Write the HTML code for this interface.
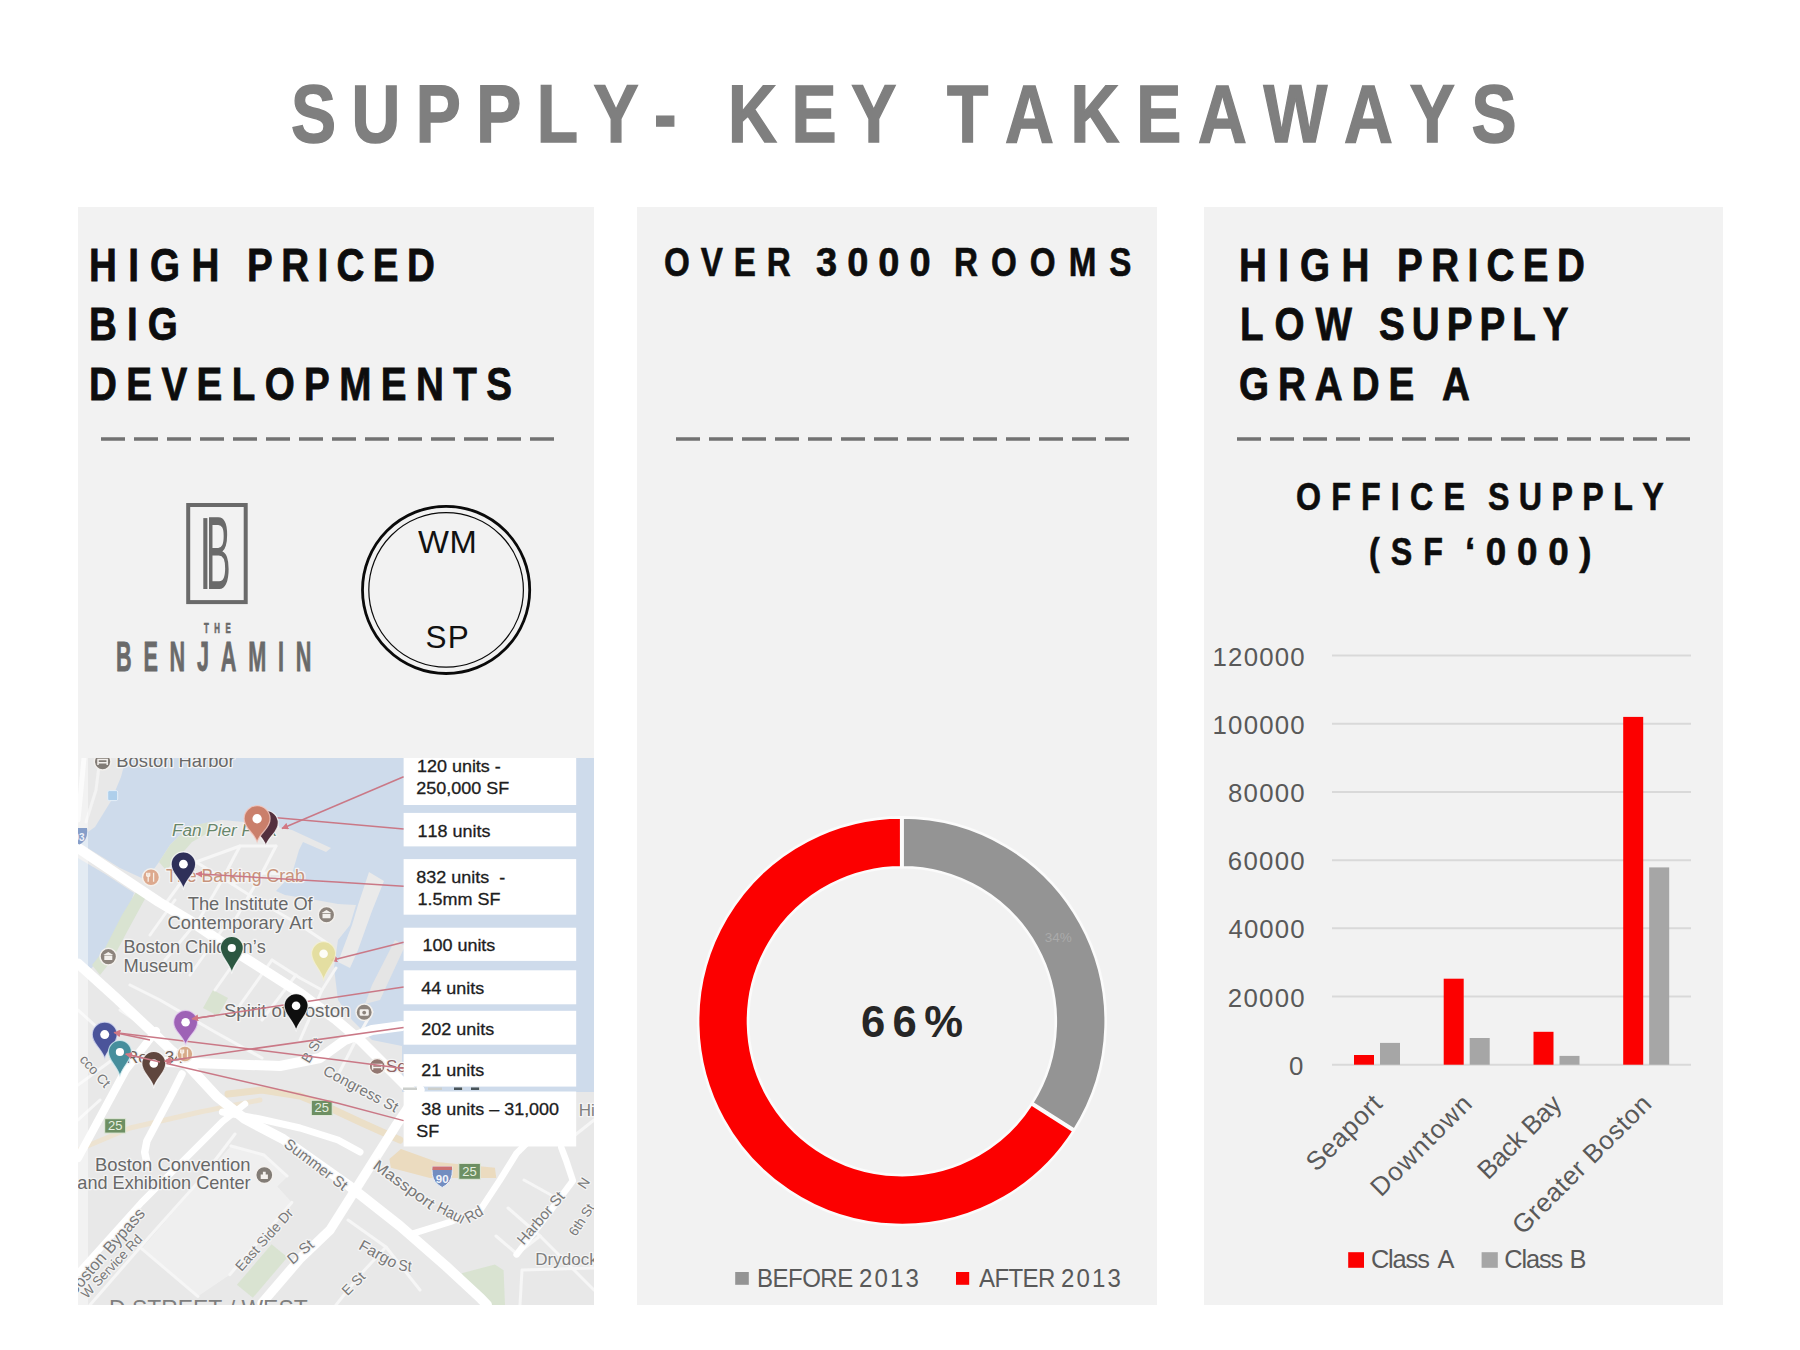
<!DOCTYPE html>
<html lang="en"><head><meta charset="utf-8"><title>Supply - Key Takeaways</title>
<style>
html,body{margin:0;padding:0;background:#fff;}
body{width:1800px;height:1350px;position:relative;overflow:hidden;font-family:"Liberation Sans",sans-serif;font-kerning:none;}
.t{position:absolute;white-space:nowrap;line-height:1;transform-origin:0 0;}
.r{position:absolute;}
svg text{font-family:"Liberation Sans",sans-serif;font-kerning:none;}
</style></head><body>
<div class="r" style="left:78px;top:207px;width:516px;height:1098px;background:#f2f2f2;"></div>
<div class="r" style="left:637px;top:207px;width:520px;height:1098px;background:#f2f2f2;"></div>
<div class="r" style="left:1204px;top:207px;width:519px;height:1098px;background:#f2f2f2;"></div>
<svg class="r" style="left:0;top:0" width="1800" height="1350" viewBox="0 0 1800 1350"><line x1="1332" y1="1064.7" x2="1691" y2="1064.7" stroke="#d9d9d9" stroke-width="2"/>
<line x1="1332" y1="996.5" x2="1691" y2="996.5" stroke="#d9d9d9" stroke-width="2"/>
<line x1="1332" y1="928.3" x2="1691" y2="928.3" stroke="#d9d9d9" stroke-width="2"/>
<line x1="1332" y1="860.2" x2="1691" y2="860.2" stroke="#d9d9d9" stroke-width="2"/>
<line x1="1332" y1="792.0" x2="1691" y2="792.0" stroke="#d9d9d9" stroke-width="2"/>
<line x1="1332" y1="723.8" x2="1691" y2="723.8" stroke="#d9d9d9" stroke-width="2"/>
<line x1="1332" y1="655.6" x2="1691" y2="655.6" stroke="#d9d9d9" stroke-width="2"/>
<rect x="1354.0" y="1055" width="20" height="9.7" fill="#fc0000"/>
<rect x="1380.0" y="1042.9" width="20" height="21.8" fill="#a6a6a6"/>
<text transform="translate(1384.1,1105.0) rotate(-45)" text-anchor="end" font-size="26" letter-spacing="0.65" fill="#595959">Seaport</text>
<rect x="1443.7" y="978.7" width="20" height="86.0" fill="#fc0000"/>
<rect x="1469.7" y="1038" width="20" height="26.7" fill="#a6a6a6"/>
<text transform="translate(1474.3,1104.6) rotate(-45)" text-anchor="end" font-size="26" letter-spacing="1.3" fill="#595959">Downtown</text>
<rect x="1533.5" y="1031.8" width="20" height="32.9" fill="#fc0000"/>
<rect x="1559.5" y="1055.9" width="20" height="8.8" fill="#a6a6a6"/>
<text transform="translate(1562.8,1105.8) rotate(-45)" text-anchor="end" font-size="26" letter-spacing="-0.5" fill="#595959">Back Bay</text>
<rect x="1623.2" y="716.9" width="20" height="347.8" fill="#fc0000"/>
<rect x="1649.2" y="867.4" width="20" height="197.3" fill="#a6a6a6"/>
<text transform="translate(1653.3,1105.1) rotate(-45)" text-anchor="end" font-size="26" letter-spacing="0.6" fill="#595959">Greater Boston</text>
<rect x="1348.2" y="1252.2" width="15.8" height="15.6" fill="#fc0000"/>
<rect x="1481.6" y="1252.2" width="16.2" height="15.6" fill="#a6a6a6"/>
<path d="M901.90 817.40 A203.8 203.8 0 0 1 1073.97 1130.40 L1031.84 1103.66 A153.89999999999998 153.89999999999998 0 0 0 901.90 867.30 Z" fill="#949494" stroke="#fbfbfb" stroke-width="2.6" stroke-linejoin="round"/>
<path d="M1073.97 1130.40 A203.8 203.8 0 1 1 901.90 817.40 L901.90 867.30 A153.89999999999998 153.89999999999998 0 1 0 1031.84 1103.66 Z" fill="#fc0000" stroke="#fbfbfb" stroke-width="2.6" stroke-linejoin="round"/>
<line x1="901.90" y1="867.50" x2="901.90" y2="817.20" stroke="#fbfbfb" stroke-width="4"/>
<line x1="1031.67" y1="1103.56" x2="1074.14" y2="1130.51" stroke="#fbfbfb" stroke-width="4"/>
<rect x="735.2" y="1272" width="13.6" height="12.8" fill="#949494"/>
<rect x="956" y="1272" width="13.2" height="12.8" fill="#fc0000"/>
<rect x="188.2" y="505" width="57.5" height="97.1" fill="none" stroke="#6a6a6a" stroke-width="4"/>
<rect x="203.3" y="518.1" width="4.1" height="70.9" fill="#6a6a6a"/>
<circle cx="446.1" cy="589.9" r="83.6" fill="none" stroke="#0a0a0a" stroke-width="2.8"/>
<circle cx="446.1" cy="589.9" r="77.3" fill="none" stroke="#0a0a0a" stroke-width="1.2"/>
<svg x="78" y="758" width="516" height="547" viewBox="78 758 516 547"><rect x="78" y="758" width="516" height="547" fill="#e7e7e7"/>
<polygon points="126.0,758.0 594.0,758.0 594.0,1092.0 402.0,1092.0 402.0,1046.0 372.0,1040.0 352.0,1020.0 338.0,1000.0 334.0,968.0 338.0,940.0 350.0,925.0 356.0,905.0 338.0,904.0 316.0,900.0 285.0,895.0 276.0,891.0 292.0,874.0 299.0,850.0 303.0,842.0 326.0,852.0 331.0,848.0 292.0,830.0 277.0,827.0 266.0,826.0 244.0,822.0 222.0,820.0 191.0,826.0 179.0,836.0 170.0,845.0 159.0,862.0 146.0,880.0 120.0,868.0 78.0,842.0 78.0,839.0 95.0,827.0 111.0,801.0 121.0,777.0" fill="#cbd9ea" />
<polygon points="78.0,858.0 105.0,874.0 134.0,893.0 124.5,920.5 103.0,954.9 88.0,972.0 78.0,966.0" fill="#cbd9ea" />
<polygon points="369.0,872.0 384.0,881.0 372.0,911.0 358.0,950.0 350.0,968.0 338.0,962.0 352.0,925.0 358.0,905.0" fill="#e9e9e9" />
<polygon points="395.0,940.0 405.0,946.0 380.0,1000.0 365.0,1004.0 372.0,985.0" fill="#e4e4e4" />
<polygon points="170.0,845.0 179.0,836.0 191.0,826.0 210.0,822.0 206.0,834.0 192.0,842.0 178.0,858.0 166.0,870.0 159.0,862.0" fill="#d7e2cf" />
<polygon points="136.0,892.0 146.0,897.0 128.0,930.0 112.0,960.0 100.0,975.0 92.0,965.0 104.0,950.0 122.0,915.0" fill="#d7e2cf" />
<polygon points="213.0,990.0 228.0,998.0 218.0,1016.0 203.0,1008.0" fill="#d7e2cf" />
<polygon points="271.6,1244.3 287.4,1257.3 252.8,1297.8 236.9,1284.8" fill="#d7e2cf" />
<polygon points="461.7,1273.2 494.9,1264.6 503.6,1270.3 505.0,1305.0 480.4,1305.0" fill="#d7e2cf" />
<polyline points="84.0,758.0 80.0,800.0 78.0,820.0" fill="none" stroke="#f8f8f8" stroke-width="5" stroke-linecap="round" stroke-linejoin="round" />
<polyline points="100.0,758.0 96.0,790.0 86.0,822.0" fill="none" stroke="#f3f3f3" stroke-width="3" stroke-linecap="round" stroke-linejoin="round" />
<polygon points="231.0,1146.0 264.3,1154.8 287.4,1176.4 277.3,1186.6 291.8,1202.4 229.7,1274.7 197.9,1296.3 141.6,1248.7" fill="#efefef" />
<polyline points="78.0,1150.0 130.0,1128.0 200.0,1112.0 260.0,1100.0" fill="none" stroke="#ece2cf" stroke-width="5" stroke-linecap="round" stroke-linejoin="round" />
<polyline points="228.0,1094.0 262.0,1090.0 300.0,1096.0 330.0,1108.0 360.0,1122.0 400.0,1140.0" fill="none" stroke="#eaddc4" stroke-width="7" stroke-linecap="round" stroke-linejoin="round" />
<polygon points="389.4,1159.1 401.0,1149.0 437.1,1162.0 494.9,1167.8 496.3,1177.9 429.9,1177.9 390.9,1167.8" fill="#ead9bb" />
<polyline points="166.0,903.0 196.0,862.0 240.0,846.0 276.0,846.0" fill="none" stroke="#f6f6f6" stroke-width="3" stroke-linecap="round" stroke-linejoin="round" />
<polyline points="196.0,862.0 232.0,884.0 262.0,903.0" fill="none" stroke="#f6f6f6" stroke-width="3" stroke-linecap="round" stroke-linejoin="round" />
<polyline points="240.0,846.0 222.0,880.0 200.0,918.0" fill="none" stroke="#f6f6f6" stroke-width="3" stroke-linecap="round" stroke-linejoin="round" />
<polyline points="276.0,846.0 262.0,873.0 236.0,918.0" fill="none" stroke="#f6f6f6" stroke-width="3" stroke-linecap="round" stroke-linejoin="round" />
<polyline points="232.0,884.0 262.0,873.0 292.0,874.0" fill="none" stroke="#f6f6f6" stroke-width="3" stroke-linecap="round" stroke-linejoin="round" />
<polyline points="262.0,903.0 300.0,925.0 330.0,945.0" fill="none" stroke="#f6f6f6" stroke-width="3" stroke-linecap="round" stroke-linejoin="round" />
<polyline points="150.0,935.0 175.0,900.0" fill="none" stroke="#f6f6f6" stroke-width="3" stroke-linecap="round" stroke-linejoin="round" />
<polyline points="165.0,960.0 200.0,918.0" fill="none" stroke="#f6f6f6" stroke-width="3" stroke-linecap="round" stroke-linejoin="round" />
<polyline points="190.0,975.0 222.0,930.0" fill="none" stroke="#f6f6f6" stroke-width="3" stroke-linecap="round" stroke-linejoin="round" />
<polyline points="215.0,990.0 246.0,946.0" fill="none" stroke="#f6f6f6" stroke-width="3" stroke-linecap="round" stroke-linejoin="round" />
<polyline points="240.0,1005.0 272.0,960.0" fill="none" stroke="#f6f6f6" stroke-width="3" stroke-linecap="round" stroke-linejoin="round" />
<polyline points="262.0,1020.0 296.0,975.0" fill="none" stroke="#f6f6f6" stroke-width="3" stroke-linecap="round" stroke-linejoin="round" />
<polyline points="130.0,985.0 160.0,1000.0 215.0,1032.0 262.0,1058.0" fill="none" stroke="#f6f6f6" stroke-width="3" stroke-linecap="round" stroke-linejoin="round" />
<polyline points="120.0,1010.0 150.0,1030.0" fill="none" stroke="#f6f6f6" stroke-width="3" stroke-linecap="round" stroke-linejoin="round" />
<polyline points="272.0,960.0 300.0,978.0 322.0,990.0" fill="none" stroke="#f6f6f6" stroke-width="3" stroke-linecap="round" stroke-linejoin="round" />
<polyline points="300.0,1040.0 322.0,990.0 336.0,968.0" fill="none" stroke="#f6f6f6" stroke-width="3" stroke-linecap="round" stroke-linejoin="round" />
<polyline points="338.0,1075.0 356.0,1040.0 372.0,1012.0" fill="none" stroke="#f6f6f6" stroke-width="3" stroke-linecap="round" stroke-linejoin="round" />
<polyline points="78.0,1010.0 100.0,1030.0 118.0,1052.0" fill="none" stroke="#f6f6f6" stroke-width="3" stroke-linecap="round" stroke-linejoin="round" />
<polyline points="78.0,1085.0 112.0,1060.0" fill="none" stroke="#f6f6f6" stroke-width="3" stroke-linecap="round" stroke-linejoin="round" />
<polyline points="78.0,1120.0 100.0,1100.0" fill="none" stroke="#f6f6f6" stroke-width="3" stroke-linecap="round" stroke-linejoin="round" />
<polyline points="90.0,1305.0 150.0,1236.0 200.0,1180.0 235.0,1134.0" fill="none" stroke="#f6f6f6" stroke-width="3" stroke-linecap="round" stroke-linejoin="round" />
<polyline points="141.6,1248.7 197.9,1296.3" fill="none" stroke="#f6f6f6" stroke-width="3" stroke-linecap="round" stroke-linejoin="round" />
<polyline points="231.0,1146.0 264.0,1155.0 287.0,1176.0" fill="none" stroke="#f6f6f6" stroke-width="3" stroke-linecap="round" stroke-linejoin="round" />
<polyline points="291.8,1202.4 229.7,1274.7" fill="none" stroke="#f6f6f6" stroke-width="3" stroke-linecap="round" stroke-linejoin="round" />
<polyline points="336.0,1305.0 360.0,1275.0 386.0,1247.0" fill="none" stroke="#f6f6f6" stroke-width="3" stroke-linecap="round" stroke-linejoin="round" />
<polyline points="348.0,1220.0 386.0,1247.0 420.0,1290.0" fill="none" stroke="#f6f6f6" stroke-width="3" stroke-linecap="round" stroke-linejoin="round" />
<polyline points="496.0,1236.0 517.0,1254.0" fill="none" stroke="#f6f6f6" stroke-width="3" stroke-linecap="round" stroke-linejoin="round" />
<polyline points="508.0,1208.0 540.0,1236.0" fill="none" stroke="#f6f6f6" stroke-width="3" stroke-linecap="round" stroke-linejoin="round" />
<polyline points="524.0,1180.0 560.0,1200.0" fill="none" stroke="#f6f6f6" stroke-width="3" stroke-linecap="round" stroke-linejoin="round" />
<polyline points="520.0,1305.0 522.0,1270.0 594.0,1268.0" fill="none" stroke="#f6f6f6" stroke-width="3" stroke-linecap="round" stroke-linejoin="round" />
<polyline points="560.0,1147.0 594.0,1120.0" fill="none" stroke="#f6f6f6" stroke-width="3" stroke-linecap="round" stroke-linejoin="round" />
<polyline points="540.0,1236.0 517.0,1254.0" fill="none" stroke="#f6f6f6" stroke-width="3" stroke-linecap="round" stroke-linejoin="round" />
<polyline points="540.0,1236.0 594.0,1290.0" fill="none" stroke="#f6f6f6" stroke-width="3" stroke-linecap="round" stroke-linejoin="round" />
<polyline points="78.0,848.0 121.3,877.0 158.9,902.0 189.0,920.0 240.5,955.0 300.7,993.5 335.0,1019.0 361.0,1041.0 404.0,1084.0 440.0,1118.0" fill="none" stroke="#ffffff" stroke-width="10" stroke-linecap="round" stroke-linejoin="round" />
<polyline points="78.0,963.5 115.9,997.8 154.5,1034.0 172.0,1051.0 189.1,1066.7 216.9,1096.7 244.7,1118.9 283.0,1139.0 348.0,1185.0 400.0,1226.0 445.8,1266.0 481.0,1298.7 487.0,1305.0" fill="none" stroke="#ffffff" stroke-width="10" stroke-linecap="round" stroke-linejoin="round" />
<polyline points="78.0,1158.0 104.0,1110.0 125.7,1070.0 156.0,1031.0" fill="none" stroke="#ffffff" stroke-width="8" stroke-linecap="round" stroke-linejoin="round" />
<polyline points="165.0,1062.0 222.0,1064.0 280.0,1066.0 320.0,1058.0 345.0,1040.0 372.0,1030.0 402.0,1026.0" fill="none" stroke="#ffffff" stroke-width="10" stroke-linecap="round" stroke-linejoin="round" />
<polyline points="182.0,1074.0 172.0,1094.0 146.9,1141.1 144.7,1152.2 147.0,1163.0" fill="none" stroke="#ffffff" stroke-width="7.5" stroke-linecap="round" stroke-linejoin="round" />
<polyline points="78.0,1273.0 141.6,1202.4 222.4,1121.6 245.0,1104.0" fill="none" stroke="#ffffff" stroke-width="6.5" stroke-linecap="round" stroke-linejoin="round" />
<polyline points="222.4,1112.0 258.6,1118.7 300.0,1128.0 338.0,1140.0 360.0,1152.0" fill="none" stroke="#ffffff" stroke-width="7" stroke-linecap="round" stroke-linejoin="round" />
<polyline points="420.0,1090.0 396.7,1124.4 330.0,1230.0 300.7,1258.0 262.0,1303.0" fill="none" stroke="#ffffff" stroke-width="9.5" stroke-linecap="round" stroke-linejoin="round" />
<polyline points="411.1,1234.2 450.0,1222.0 480.4,1209.7 500.0,1180.0 516.6,1153.3 530.0,1140.0" fill="none" stroke="#ffffff" stroke-width="6.5" stroke-linecap="round" stroke-linejoin="round" />
<polyline points="516.6,1254.4 545.0,1218.0 572.9,1180.8 566.0,1160.0 561.3,1147.6" fill="none" stroke="#ffffff" stroke-width="6.5" stroke-linecap="round" stroke-linejoin="round" />
<rect x="78" y="758" width="10" height="547" fill="#ffffff" opacity="0.45"/>
<text x="116.3" y="767.0" font-size="18.4" fill="#5f5f5f" textLength="118.4" lengthAdjust="spacingAndGlyphs" stroke="#f4f4f4" stroke-width="2.5" paint-order="stroke" stroke-linejoin="round">Boston Harbor</text>
<text x="171.9" y="836.0" font-size="17.2" fill="#5f7f62" font-style="italic" stroke="#f4f4f4" stroke-width="2.5" paint-order="stroke" stroke-linejoin="round">Fan Pier Park</text>
<text x="166.1" y="882.2" font-size="17.7" fill="#c48d73" textLength="138.7" lengthAdjust="spacingAndGlyphs" stroke="#f4f4f4" stroke-width="2.5" paint-order="stroke" stroke-linejoin="round">The Barking Crab</text>
<text x="187.8" y="910.4" font-size="18.3" fill="#5f5f5f" textLength="124.9" lengthAdjust="spacingAndGlyphs" stroke="#f4f4f4" stroke-width="2.5" paint-order="stroke" stroke-linejoin="round">The Institute Of</text>
<text x="167.6" y="929.2" font-size="18.3" fill="#5f5f5f" textLength="145.1" lengthAdjust="spacingAndGlyphs" stroke="#f4f4f4" stroke-width="2.5" paint-order="stroke" stroke-linejoin="round">Contemporary Art</text>
<text x="123.5" y="953.0" font-size="18.3" fill="#5f5f5f" textLength="142.3" lengthAdjust="spacingAndGlyphs" stroke="#f4f4f4" stroke-width="2.5" paint-order="stroke" stroke-linejoin="round">Boston Children’s</text>
<text x="123.5" y="971.8" font-size="18.3" fill="#5f5f5f" textLength="70.1" lengthAdjust="spacingAndGlyphs" stroke="#f4f4f4" stroke-width="2.5" paint-order="stroke" stroke-linejoin="round">Museum</text>
<text x="223.9" y="1017.3" font-size="18.3" fill="#5f5f5f" textLength="126.5" lengthAdjust="spacingAndGlyphs" stroke="#f4f4f4" stroke-width="2.5" paint-order="stroke" stroke-linejoin="round">Spirit of Boston</text>
<text x="126.0" y="1062.5" font-size="17" fill="#6b5a52" stroke="#f4f4f4" stroke-width="2.5" paint-order="stroke" stroke-linejoin="round">Row 34</text>
<text x="95.0" y="1171.4" font-size="17.8" fill="#5f5f5f" textLength="155.6" lengthAdjust="spacingAndGlyphs" stroke="#f4f4f4" stroke-width="2.5" paint-order="stroke" stroke-linejoin="round">Boston Convention</text>
<text x="77.3" y="1189.4" font-size="17.8" fill="#5f5f5f" textLength="173.3" lengthAdjust="spacingAndGlyphs" stroke="#f4f4f4" stroke-width="2.5" paint-order="stroke" stroke-linejoin="round">and Exhibition Center</text>
<text x="535.3" y="1265.3" font-size="17" fill="#777" stroke="#f4f4f4" stroke-width="2.5" paint-order="stroke" stroke-linejoin="round">Drydock</text>
<text x="578.7" y="1116.2" font-size="17" fill="#777" stroke="#f4f4f4" stroke-width="2.5" paint-order="stroke" stroke-linejoin="round">Hi</text>
<text x="386.0" y="1072.0" font-size="17" fill="#8b5b5b" stroke="#f4f4f4" stroke-width="2.5" paint-order="stroke" stroke-linejoin="round">Se</text>
<text x="79.0" y="1060.0" font-size="13.5" fill="#707070" transform="rotate(48 79.0 1060.0)" stroke="#f4f4f4" stroke-width="2.5" paint-order="stroke" stroke-linejoin="round">cco Ct</text>
<text x="309.0" y="1064.0" font-size="14" fill="#707070" transform="rotate(-59 309.0 1064.0)" stroke="#f4f4f4" stroke-width="2.5" paint-order="stroke" stroke-linejoin="round">B St</text>
<text x="322.0" y="1074.0" font-size="15" fill="#707070" transform="rotate(28 322.0 1074.0)" stroke="#f4f4f4" stroke-width="2.5" paint-order="stroke" stroke-linejoin="round">Congress St</text>
<text x="283.0" y="1146.0" font-size="15" fill="#707070" transform="rotate(37 283.0 1146.0)" stroke="#f4f4f4" stroke-width="2.5" paint-order="stroke" stroke-linejoin="round">Summer St</text>
<text x="523.8" y="1245.8" font-size="15" fill="#707070" transform="rotate(-49.4 523.8 1245.8)" stroke="#f4f4f4" stroke-width="2.5" paint-order="stroke" stroke-linejoin="round">Harbor St</text>
<text x="347.6" y="1296.3" font-size="14" fill="#707070" transform="rotate(-45 347.6 1296.3)" stroke="#f4f4f4" stroke-width="2.5" paint-order="stroke" stroke-linejoin="round">E St</text>
<text x="575.8" y="1237.1" font-size="13.5" fill="#707070" transform="rotate(-57 575.8 1237.1)" stroke="#f4f4f4" stroke-width="2.5" paint-order="stroke" stroke-linejoin="round">6th St</text>
<text x="585.0" y="1190.0" font-size="14" fill="#707070" transform="rotate(-57 585.0 1190.0)" stroke="#f4f4f4" stroke-width="2.5" paint-order="stroke" stroke-linejoin="round">N</text>
<text x="145.9" y="1214.0" font-size="16.5" fill="#707070" transform="rotate(-49 145.9 1214.0)" text-anchor="end" stroke="#f4f4f4" stroke-width="2.5" paint-order="stroke" stroke-linejoin="round">Boston Bypass</text>
<text x="86.7" y="1299.2" font-size="13.4" fill="#707070" transform="rotate(-46.4 86.7 1299.2)" stroke="#f4f4f4" stroke-width="2.5" paint-order="stroke" stroke-linejoin="round">W Service Rd</text>
<text x="241.5" y="1272.0" font-size="14" fill="#707070" transform="rotate(-48 241.5 1272.0)" stroke="#f4f4f4" stroke-width="2.5" paint-order="stroke" stroke-linejoin="round">East Side Dr</text>
<text x="292.5" y="1265.0" font-size="15" fill="#707070" transform="rotate(-40 292.5 1265.0)" stroke="#f4f4f4" stroke-width="2.5" paint-order="stroke" stroke-linejoin="round">D St</text>
<text x="372.1" y="1167.8" font-size="15.5" fill="#707070" textLength="71.4" lengthAdjust="spacingAndGlyphs" transform="rotate(36 372.1 1167.8)" stroke="#f4f4f4" stroke-width="2.5" paint-order="stroke" stroke-linejoin="round">Massport</text>
<text x="435.7" y="1211.1" font-size="15.5" fill="#707070" textLength="29.0" lengthAdjust="spacingAndGlyphs" transform="rotate(26.6 435.7 1211.1)" stroke="#f4f4f4" stroke-width="2.5" paint-order="stroke" stroke-linejoin="round">Haul</text>
<text x="468.5" y="1223.5" font-size="15.5" fill="#707070" textLength="18.5" lengthAdjust="spacingAndGlyphs" transform="rotate(-30.6 468.5 1223.5)" stroke="#f4f4f4" stroke-width="2.5" paint-order="stroke" stroke-linejoin="round">Rd</text>
<text x="357.7" y="1248.7" font-size="15.5" fill="#707070" textLength="41.0" lengthAdjust="spacingAndGlyphs" transform="rotate(29 357.7 1248.7)" stroke="#f4f4f4" stroke-width="2.5" paint-order="stroke" stroke-linejoin="round">Fargo</text>
<text x="398.1" y="1270.3" font-size="15.5" fill="#707070" textLength="13.0" lengthAdjust="spacingAndGlyphs" transform="rotate(6 398.1 1270.3)" stroke="#f4f4f4" stroke-width="2.5" paint-order="stroke" stroke-linejoin="round">St</text>
<text x="109.0" y="1316.5" font-size="24" fill="#777" textLength="198.7" lengthAdjust="spacingAndGlyphs" >D STREET / WEST</text>
<rect x="104.7" y="1118.7" width="21.0" height="14.4" fill="#64895a" stroke="#dfe8d8" stroke-width="1"/>
<text x="115.2" y="1129.9" font-size="13" fill="#e6efdf" text-anchor="middle">25</text>
<rect x="311.3" y="1100.3" width="20.9" height="15.2" fill="#64895a" stroke="#dfe8d8" stroke-width="1"/>
<text x="321.8" y="1112.3" font-size="13" fill="#e6efdf" text-anchor="middle">25</text>
<rect x="458.8" y="1163.4" width="21.6" height="15.9" fill="#64895a" stroke="#dfe8d8" stroke-width="1"/>
<text x="469.6" y="1176.1" font-size="13" fill="#e6efdf" text-anchor="middle">25</text>
<path d="M432.5 1166.5 h19.4 q1.5 9 -2.5 15 q-3 4 -7.2 6 q-4.2 -2 -7.2 -6 q-4 -6 -2.5 -15z" fill="#6a86bd" stroke="#e8eef8" stroke-width="1"/>
<path d="M432.5 1166.5 h19.4 l0.2 3.6 h-19.8z" fill="#c96a6a"/>
<text x="442.2" y="1182.5" font-size="11.5" font-weight="700" fill="#f2f5fb" text-anchor="middle">90</text>
<path d="M74 828 h13 q1 7 -2 12 q-2.5 3 -5.5 4.5 q-3 -1.5 -5.5 -4.5z" fill="#7f98c6"/>
<text x="79" y="841" font-size="10" font-weight="700" fill="#eef2fa" text-anchor="middle">93</text>
<circle cx="102.6" cy="761.6" r="8.3" fill="#7b746e" stroke="#f3f0ec" stroke-width="1.5"/>
<path d="M98.0 765.0 v-5.4 h9.2 v5.4 M98.0 762.8000000000001 h9.2" stroke="#f3f0ec" stroke-width="1.5" fill="none"/>
<circle cx="108.3" cy="956.6" r="8.3" fill="#857c74" stroke="#f3f0ec" stroke-width="1.5"/>
<path d="M104.3 960.1 h8 v-4.5 h-8z M103.3 955.0 l5 -3 l5 3z" fill="#f3f0ec"/>
<circle cx="326.5" cy="914.7" r="8.2" fill="#857c74" stroke="#f3f0ec" stroke-width="1.5"/>
<path d="M322.5 918.2 h8 v-4.5 h-8z M321.5 913.1 l5 -3 l5 3z" fill="#f3f0ec"/>
<circle cx="364.2" cy="1012.2" r="8.2" fill="#857c74" stroke="#f3f0ec" stroke-width="1.5"/>
<rect x="359.59999999999997" y="1009.2" width="9.2" height="6.6" rx="1.2" fill="#f3f0ec"/><circle cx="364.2" cy="1012.6" r="1.9" fill="#857c74"/>
<circle cx="151" cy="877.2" r="8.5" fill="#dba487" stroke="#f3f0ec" stroke-width="1.5"/>
<path d="M148.2 872.7 v9 M153.6 872.7 v9 M146.7 872.7 v3 q1.5 1.6 3 0 v-3" stroke="#f7efe6" stroke-width="1.3" fill="none"/>
<circle cx="184.9" cy="1054.1" r="8" fill="#d5a682" stroke="#f3f0ec" stroke-width="1.5"/>
<path d="M182.1 1049.6 v9 M187.5 1049.6 v9 M180.6 1049.6 v3 q1.5 1.6 3 0 v-3" stroke="#f7efe6" stroke-width="1.3" fill="none"/>
<circle cx="377.2" cy="1066.4" r="8" fill="#8d6f69" stroke="#f3f0ec" stroke-width="1.5"/>
<path d="M372.59999999999997 1069.8000000000002 v-5.4 h9.2 v5.4 M372.59999999999997 1067.6000000000001 h9.2" stroke="#f3f0ec" stroke-width="1.5" fill="none"/>
<circle cx="264.3" cy="1175" r="8.6" fill="#7b746e" stroke="#f3f0ec" stroke-width="1.5"/>
<path d="M260.7 1179 v-4.6 h2.2 v-2.6 h2.8 v2.6 h2.2 v4.6z" fill="#f3f0ec"/>
<rect x="107.7" y="790.6" width="10" height="10" rx="1.5" fill="#a9cdea" stroke="#e4eef8" stroke-width="1"/>
<rect x="403.6" y="750" width="172.6" height="55.0" fill="#ffffff"/>
<rect x="403.6" y="812.9" width="172.6" height="33.5" fill="#ffffff"/>
<rect x="403.6" y="859.1" width="172.6" height="55.6" fill="#ffffff"/>
<rect x="403.6" y="927.7" width="172.6" height="33.2" fill="#ffffff"/>
<rect x="403.6" y="970.3" width="172.6" height="34.0" fill="#ffffff"/>
<rect x="403.6" y="1010.8" width="172.6" height="33.9" fill="#ffffff"/>
<rect x="403.6" y="1054.1" width="172.6" height="32.5" fill="#ffffff"/>
<rect x="403.6" y="1091.5" width="172.6" height="55.0" fill="#ffffff"/>
<path d="M403 1088.8 h14 M428 1088.8 h14 M454 1088.8 h9 M471 1088.8 h9" stroke="#c9cdc9" stroke-width="2.6"/>
<path d="M454 1088.8 h8 M471 1088.8 h8" stroke="#3d4a50" stroke-width="2.6"/>
<defs><marker id="ah" viewBox="0 0 10 10" refX="9" refY="5" markerWidth="4.6" markerHeight="4.6" orient="auto-start-reverse"><path d="M0 0 L10 5 L0 10z" fill="#d06f7c"/></marker></defs>
<polyline points="403.6,776.8 282.0,828.5" fill="none" stroke="#c7707f" stroke-width="1.5" marker-end="url(#ah)"/>
<polyline points="403.6,829.0 336.0,823.0 274.0,817.5" fill="none" stroke="#c7707f" stroke-width="1.5"/>
<polyline points="403.6,886.3 336.0,882.0 196.0,873.8" fill="none" stroke="#c7707f" stroke-width="1.5" marker-end="url(#ah)"/>
<polyline points="403.6,942.2 331.0,960.5" fill="none" stroke="#c7707f" stroke-width="1.5" marker-end="url(#ah)"/>
<polyline points="403.6,986.9 197.9,1018.0" fill="none" stroke="#c7707f" stroke-width="1.5"/>
<polyline points="403.6,1027.4 164.7,1061.3" fill="none" stroke="#c7707f" stroke-width="1.5" marker-end="url(#ah)"/>
<polyline points="403.6,1068.6 338.0,1059.9 114.1,1032.4" fill="none" stroke="#c7707f" stroke-width="1.5" marker-end="url(#ah)"/>
<polyline points="403.6,1120.6 338.0,1103.2 125.7,1054.1" fill="none" stroke="#c7707f" stroke-width="1.5" marker-end="url(#ah)"/>
<path d="M265.8 845.4 C262.1 835.3 253.3 832.4 253.3 823.0 A12.5 12.5 0 1 1 278.3 823.0 C278.3 832.4 269.6 835.3 265.8 845.4Z" fill="#4a2432" stroke="#ffffff" stroke-width="1.2" stroke-opacity="0.8" opacity="1.0"/>
<path d="M257.1 841.8 C253.2 831.4 244.1 828.5 244.1 818.7 A13 13 0 1 1 270.1 818.7 C270.1 828.5 261.0 831.4 257.1 841.8Z" fill="#c77762" stroke="#f3c6bd" stroke-width="1.2" stroke-opacity="0.8" opacity="1.0"/>
<circle cx="257.1" cy="818.7" r="4.7" fill="#ffffff" opacity="1.0"/>
<path d="M183.4 888.7 C179.7 877.7 171.1 873.4 171.1 864.2 A12.3 12.3 0 1 1 195.7 864.2 C195.7 873.4 187.1 877.7 183.4 888.7Z" fill="#23244f" stroke="#ffffff" stroke-width="1.2" stroke-opacity="0.8" opacity="1.0"/>
<circle cx="183.4" cy="864.2" r="4.4" fill="#ffffff" opacity="1.0"/>
<path d="M231.8 972.5 C228.4 961.5 220.3 956.6 220.3 948.0 A11.5 11.5 0 1 1 243.3 948.0 C243.3 956.6 235.2 961.5 231.8 972.5Z" fill="#1f4d36" stroke="#ffffff" stroke-width="1.2" stroke-opacity="0.8" opacity="1.0"/>
<circle cx="231.8" cy="948.0" r="4.1" fill="#ffffff" opacity="1.0"/>
<path d="M323.6 979.7 C320.0 968.0 311.6 962.7 311.6 953.7 A12 12 0 1 1 335.6 953.7 C335.6 962.7 327.2 968.0 323.6 979.7Z" fill="#e3dc96" stroke="#f4f1d2" stroke-width="1.2" stroke-opacity="0.8" opacity="0.92"/>
<circle cx="323.6" cy="953.7" r="4.3" fill="#ffffff" opacity="0.92"/>
<path d="M296.1 1030.3 C292.5 1019.2 284.1 1014.7 284.1 1005.7 A12 12 0 1 1 308.1 1005.7 C308.1 1014.7 299.7 1019.2 296.1 1030.3Z" fill="#000000" stroke="#ffffff" stroke-width="1.2" stroke-opacity="0.8" opacity="1.0"/>
<circle cx="296.1" cy="1005.7" r="4.3" fill="#ffffff" opacity="1.0"/>
<path d="M185.6 1044.7 C182.0 1034.6 173.6 1031.3 173.6 1022.3 A12 12 0 1 1 197.6 1022.3 C197.6 1031.3 189.2 1034.6 185.6 1044.7Z" fill="#9859b2" stroke="#e6d2f0" stroke-width="1.2" stroke-opacity="0.8" opacity="1.0"/>
<circle cx="185.6" cy="1022.3" r="4.3" fill="#ffffff" opacity="1.0"/>
<path d="M104.7 1058.4 C101.0 1047.7 92.2 1044.0 92.2 1034.6 A12.5 12.5 0 1 1 117.2 1034.6 C117.2 1044.0 108.5 1047.7 104.7 1058.4Z" fill="#404a94" stroke="#d7dcf3" stroke-width="1.2" stroke-opacity="0.8" opacity="1.0"/>
<circle cx="104.7" cy="1034.6" r="4.5" fill="#ffffff" opacity="1.0"/>
<path d="M119.9 1075.8 C116.5 1065.1 108.4 1060.6 108.4 1052.0 A11.5 11.5 0 1 1 131.4 1052.0 C131.4 1060.6 123.4 1065.1 119.9 1075.8Z" fill="#3b8796" stroke="#d3ecf1" stroke-width="1.2" stroke-opacity="0.8" opacity="1.0"/>
<circle cx="119.9" cy="1052.0" r="4.1" fill="#ffffff" opacity="1.0"/>
<path d="M153.8 1087.3 C150.2 1076.6 141.8 1072.5 141.8 1063.5 A12 12 0 1 1 165.8 1063.5 C165.8 1072.5 157.4 1076.6 153.8 1087.3Z" fill="#563b32" stroke="#ffffff" stroke-width="1.2" stroke-opacity="0.8" opacity="1.0"/>
<circle cx="153.8" cy="1063.5" r="4.3" fill="#ffffff" opacity="1.0"/>
<polyline points="150.0,1040.0 114.1,1032.4" fill="none" stroke="#c7707f" stroke-width="1.5" marker-end="url(#ah)"/>
<polyline points="160.0,1062.0 125.7,1054.1" fill="none" stroke="#c7707f" stroke-width="1.5" marker-end="url(#ah)"/>
<polyline points="185.0,1058.4 164.7,1061.3" fill="none" stroke="#c7707f" stroke-width="1.5" marker-end="url(#ah)"/>
<polyline points="215.0,1015.4 192.0,1018.8" fill="none" stroke="#c7707f" stroke-width="1.5" marker-end="url(#ah)"/>
<text x="416.9" y="772.4" font-size="16.5" fill="#101010" stroke="#101010" stroke-width="0.3" transform="translate(416.9 0) scale(1.09 1) translate(-416.9 0)" style="white-space:pre">120 units -</text>
<text x="416.2" y="794.1" font-size="16.5" fill="#101010" stroke="#101010" stroke-width="0.3" transform="translate(416.2 0) scale(1.09 1) translate(-416.2 0)" style="white-space:pre">250,000 SF</text>
<text x="417.6" y="836.7" font-size="16.5" fill="#101010" stroke="#101010" stroke-width="0.3" transform="translate(417.6 0) scale(1.09 1) translate(-417.6 0)" style="white-space:pre">118 units</text>
<text x="416.2" y="882.9" font-size="16.5" fill="#101010" stroke="#101010" stroke-width="0.3" transform="translate(416.2 0) scale(1.09 1) translate(-416.2 0)" style="white-space:pre">832 units  -</text>
<text x="417.6" y="904.6" font-size="16.5" fill="#101010" stroke="#101010" stroke-width="0.3" transform="translate(417.6 0) scale(1.09 1) translate(-417.6 0)" style="white-space:pre">1.5mm SF</text>
<text x="422.4" y="950.8" font-size="16.5" fill="#101010" stroke="#101010" stroke-width="0.3" transform="translate(422.4 0) scale(1.09 1) translate(-422.4 0)" style="white-space:pre">100 units</text>
<text x="421.2" y="994.2" font-size="16.5" fill="#101010" stroke="#101010" stroke-width="0.3" transform="translate(421.2 0) scale(1.09 1) translate(-421.2 0)" style="white-space:pre">44 units</text>
<text x="421.2" y="1034.6" font-size="16.5" fill="#101010" stroke="#101010" stroke-width="0.3" transform="translate(421.2 0) scale(1.09 1) translate(-421.2 0)" style="white-space:pre">202 units</text>
<text x="421.2" y="1075.8" font-size="16.5" fill="#101010" stroke="#101010" stroke-width="0.3" transform="translate(421.2 0) scale(1.09 1) translate(-421.2 0)" style="white-space:pre">21 units</text>
<text x="421.2" y="1115.5" font-size="16.5" fill="#101010" stroke="#101010" stroke-width="0.3" transform="translate(421.2 0) scale(1.09 1) translate(-421.2 0)" style="white-space:pre">38 units – 31,000</text>
<text x="416.2" y="1137.4" font-size="16.5" fill="#101010" stroke="#101010" stroke-width="0.3" transform="translate(416.2 0) scale(1.09 1) translate(-416.2 0)" style="white-space:pre">SF</text>
<rect x="78" y="758" width="516" height="547" fill="#ffffff" opacity="0.06"/></svg></svg>
<div class="t" style="left:291.0px;top:72.9px;font-size:81.4px;color:#7f7f7f;letter-spacing:18.62px;font-weight:700;transform:scaleX(0.83);-webkit-text-stroke:1.5px #7f7f7f;">SUPPLY-</div>
<div class="t" style="left:728.4px;top:72.9px;font-size:81.4px;color:#7f7f7f;letter-spacing:17.71px;font-weight:700;transform:scaleX(0.83);-webkit-text-stroke:1.5px #7f7f7f;">KEY</div>
<div class="t" style="left:947.0px;top:72.9px;font-size:81.4px;color:#7f7f7f;letter-spacing:20.21px;font-weight:700;transform:scaleX(0.83);-webkit-text-stroke:1.5px #7f7f7f;">TAKEAWAYS</div>
<div class="t" style="left:89.4px;top:241.6px;font-size:46.5px;color:#0d0d0d;letter-spacing:13.57px;font-weight:700;transform:scaleX(0.83);-webkit-text-stroke:0.8px #0d0d0d;">HIGH</div>
<div class="t" style="left:247.4px;top:241.6px;font-size:46.5px;color:#0d0d0d;letter-spacing:10.14px;font-weight:700;transform:scaleX(0.83);-webkit-text-stroke:0.8px #0d0d0d;">PRICED</div>
<div class="t" style="left:89.4px;top:301.4px;font-size:46.5px;color:#0d0d0d;letter-spacing:12.14px;font-weight:700;transform:scaleX(0.83);-webkit-text-stroke:0.8px #0d0d0d;">BIG</div>
<div class="t" style="left:89.4px;top:361.4px;font-size:46.5px;color:#0d0d0d;letter-spacing:11.32px;font-weight:700;transform:scaleX(0.83);-webkit-text-stroke:0.8px #0d0d0d;">DEVELOPMENTS</div>
<div class="t" style="left:664.0px;top:241.6px;font-size:40px;color:#0d0d0d;letter-spacing:13.15px;font-weight:700;transform:scaleX(0.83);-webkit-text-stroke:0.6px #0d0d0d;">OVER</div>
<div class="t" style="left:815.9px;top:241.6px;font-size:40px;color:#0d0d0d;letter-spacing:10.52px;font-weight:700;transform:scaleX(0.95);-webkit-text-stroke:0.6px #0d0d0d;">3000</div>
<div class="t" style="left:954.1px;top:241.6px;font-size:40px;color:#0d0d0d;letter-spacing:15.69px;font-weight:700;transform:scaleX(0.83);-webkit-text-stroke:0.6px #0d0d0d;">ROOMS</div>
<div class="t" style="left:1239.0px;top:241.6px;font-size:46.5px;color:#0d0d0d;letter-spacing:13.57px;font-weight:700;transform:scaleX(0.83);-webkit-text-stroke:0.8px #0d0d0d;">HIGH</div>
<div class="t" style="left:1397.0px;top:241.6px;font-size:46.5px;color:#0d0d0d;letter-spacing:10.14px;font-weight:700;transform:scaleX(0.83);-webkit-text-stroke:0.8px #0d0d0d;">PRICED</div>
<div class="t" style="left:1239.6px;top:301.4px;font-size:46.5px;color:#0d0d0d;letter-spacing:13.25px;font-weight:700;transform:scaleX(0.83);-webkit-text-stroke:0.8px #0d0d0d;">LOW</div>
<div class="t" style="left:1379.3px;top:301.4px;font-size:46.5px;color:#0d0d0d;letter-spacing:8.46px;font-weight:700;transform:scaleX(0.83);-webkit-text-stroke:0.8px #0d0d0d;">SUPPLY</div>
<div class="t" style="left:1239.1px;top:361.4px;font-size:46.5px;color:#0d0d0d;letter-spacing:10.82px;font-weight:700;transform:scaleX(0.83);-webkit-text-stroke:0.8px #0d0d0d;">GRADE</div>
<div class="t" style="left:1441.9px;top:361.4px;font-size:46.5px;color:#0d0d0d;font-weight:700;transform:scaleX(0.83);-webkit-text-stroke:0.8px #0d0d0d;">A</div>
<svg class="r" style="left:101.3px;top:436.4px" width="460" height="6"><line x1="0" y1="3" x2="453.5" y2="3" stroke="#727272" stroke-width="3.3" stroke-dasharray="24 9"/></svg>
<svg class="r" style="left:676.3px;top:436.4px" width="460" height="6"><line x1="0" y1="3" x2="453.5" y2="3" stroke="#727272" stroke-width="3.3" stroke-dasharray="24 9"/></svg>
<svg class="r" style="left:1237.3px;top:436.4px" width="460" height="6"><line x1="0" y1="3" x2="453.5" y2="3" stroke="#727272" stroke-width="3.3" stroke-dasharray="24 9"/></svg>
<div class="t" style="left:1295.8px;top:477.8px;font-size:38.8px;color:#0d0d0d;letter-spacing:12.24px;font-weight:700;transform:scaleX(0.83);-webkit-text-stroke:0.6px #0d0d0d;">OFFICE</div>
<div class="t" style="left:1487.6px;top:477.8px;font-size:38.8px;color:#0d0d0d;letter-spacing:11.30px;font-weight:700;transform:scaleX(0.83);-webkit-text-stroke:0.6px #0d0d0d;">SUPPLY</div>
<div class="t" style="left:1368.5px;top:532.5px;font-size:38.8px;color:#0d0d0d;letter-spacing:13.26px;font-weight:700;transform:scaleX(0.83);-webkit-text-stroke:0.6px #0d0d0d;">(SF</div>
<div class="t" style="left:1464.7px;top:532.5px;font-size:38.8px;color:#0d0d0d;letter-spacing:11.19px;font-weight:700;transform:scaleX(0.95);-webkit-text-stroke:0.6px #0d0d0d;">‘000)</div>
<div class="t" style="left:1289.1px;top:1053.7px;font-size:25.8px;color:#595959;">0</div>
<div class="t" style="left:1227.8px;top:985.5px;font-size:25.8px;color:#595959;letter-spacing:1.27px;">20000</div>
<div class="t" style="left:1228.5px;top:917.3px;font-size:25.8px;color:#595959;letter-spacing:1.09px;">40000</div>
<div class="t" style="left:1227.8px;top:849.1px;font-size:25.8px;color:#595959;letter-spacing:1.27px;">60000</div>
<div class="t" style="left:1228.0px;top:780.9px;font-size:25.8px;color:#595959;letter-spacing:1.22px;">80000</div>
<div class="t" style="left:1212.6px;top:712.8px;font-size:25.8px;color:#595959;letter-spacing:1.18px;">100000</div>
<div class="t" style="left:1212.6px;top:644.6px;font-size:25.8px;color:#595959;letter-spacing:1.18px;">120000</div>
<div class="t" style="left:1370.9px;top:1247.4px;font-size:25.4px;color:#595959;letter-spacing:-1.13px;">Class</div>
<div class="t" style="left:1437.5px;top:1247.4px;font-size:25.4px;color:#595959;">A</div>
<div class="t" style="left:1504.3px;top:1247.4px;font-size:25.4px;color:#595959;letter-spacing:-1.13px;">Class</div>
<div class="t" style="left:1569.4px;top:1247.4px;font-size:25.4px;color:#595959;">B</div>
<div class="t" style="left:1044.7px;top:930.9px;font-size:13.5px;color:#aaaaaa;">34%</div>
<div class="t" style="left:860.9px;top:1001.3px;font-size:43.6px;color:#262626;letter-spacing:7.39px;font-weight:700;">66%</div>
<div class="t" style="left:756.8px;top:1264.6px;font-size:26.7px;color:#595959;letter-spacing:-0.58px;transform:scaleX(0.9);">BEFORE</div>
<div class="t" style="left:859.3px;top:1264.6px;font-size:26.7px;color:#595959;letter-spacing:2.34px;transform:scaleX(0.9);">2013</div>
<div class="t" style="left:978.8px;top:1264.6px;font-size:26.7px;color:#595959;letter-spacing:-0.67px;transform:scaleX(0.9);">AFTER</div>
<div class="t" style="left:1061.3px;top:1264.6px;font-size:26.7px;color:#595959;letter-spacing:2.34px;transform:scaleX(0.9);">2013</div>
<div class="t" style="left:206.3px;top:501.8px;font-size:103px;color:#6a6a6a;transform:scaleX(0.357);">B</div>
<div class="t" style="left:204.0px;top:620.7px;font-size:14.2px;color:#6a6a6a;letter-spacing:10.07px;font-weight:700;transform:scaleX(0.55);-webkit-text-stroke:0.7px #6a6a6a;">THE</div>
<div class="t" style="left:115.6px;top:635.2px;font-size:43.3px;color:#6a6a6a;letter-spacing:23.55px;font-weight:700;transform:scaleX(0.5);-webkit-text-stroke:0.8px #6a6a6a;">BENJAMIN</div>
<div class="t" style="left:418.3px;top:526.6px;font-size:31.5px;color:#111;letter-spacing:0.60px;transform:scaleX(1.04);">WM</div>
<div class="t" style="left:425.6px;top:622.3px;font-size:31.5px;color:#111;letter-spacing:1.07px;">SP</div>
</body></html>
